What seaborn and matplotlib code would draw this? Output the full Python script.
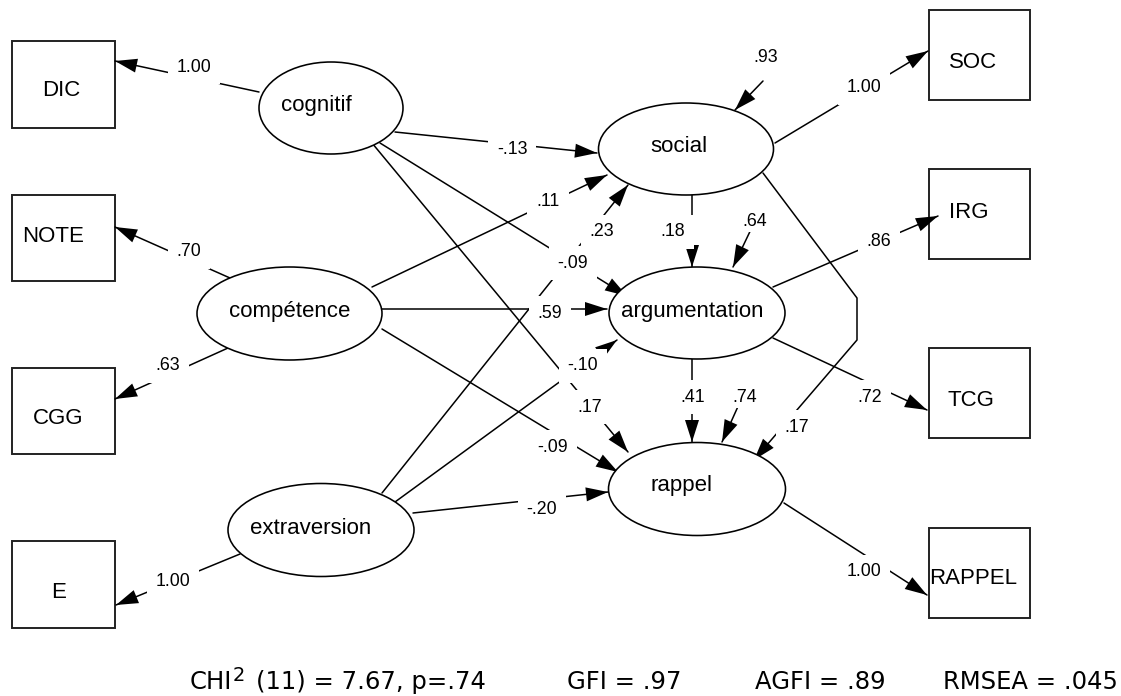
import numpy as np
import pandas as pd
import matplotlib
matplotlib.use("Agg")
import matplotlib.pyplot as plt
from matplotlib.patches import Ellipse, Rectangle
import seaborn as sns

## Model: latent variables, indicators and standardized estimates
latent = ["cognitif", "compétence", "extraversion", "social", "argumentation", "rappel"]
observed = ["DIC", "NOTE", "CGG", "E", "SOC", "IRG", "TCG", "RAPPEL"]

path_from = ["cognitif", "compétence", "compétence", "extraversion",
             "social", "argumentation", "argumentation", "rappel",
             "cognitif", "cognitif", "cognitif",
             "compétence", "compétence", "compétence",
             "extraversion", "extraversion", "extraversion",
             "social", "argumentation", "social"]
path_to = ["DIC", "NOTE", "CGG", "E",
           "SOC", "IRG", "TCG", "RAPPEL",
           "social", "argumentation", "rappel",
           "social", "argumentation", "rappel",
           "social", "argumentation", "rappel",
           "argumentation", "rappel", "rappel"]
path_coef = [1.00, 0.70, 0.63, 1.00,
             1.00, 0.86, 0.72, 1.00,
             -0.13, -0.09, 0.17,
             0.11, 0.59, -0.09,
             0.23, -0.10, -0.20,
             0.18, 0.41, 0.17]

resid_of = ["social", "argumentation", "rappel"]
resid_coef = [0.93, 0.64, 0.74]

fit_names = ["GFI", "AGFI", "RMSEA"]
fit_values = [".97", ".89", ".045"]
chi2, chi2_df, chi2_p = 7.67, 11, ".74"

## Layout (pixels, y down)
ell_layout = {  # center x, center y, width, height, text x, text y
    "cognitif": (331, 108, 144, 92, 316, 106),
    "compétence": (289.5, 313.5, 185, 93, 290, 311),
    "extraversion": (321, 530, 186, 93, 311, 528),
    "social": (686, 149, 175, 92, 679, 146),
    "argumentation": (697, 313, 176, 92, 692, 311),
    "rappel": (697, 489, 177, 93, 682, 486),
}
box_layout = {  # x0, y0, x1, y1, text x, text y
    "DIC": (12, 41, 115, 128, 61, 91),
    "NOTE": (12, 195, 115, 281, 53, 236),
    "CGG": (12, 368, 115, 454, 58, 418),
    "E": (12, 541, 115, 628, 59, 592),
    "SOC": (929, 10, 1030, 100, 973, 62),
    "IRG": (929, 169, 1030, 259, 969, 212),
    "TCG": (929, 348, 1030, 438, 971, 401),
    "RAPPEL": (929, 528, 1030, 618, 973, 578),
}
path_layout = [  # polyline points (last = arrow tip), label position
    ([(259, 92), (115, 61)], (194, 67)),
    ([(230, 278), (115, 227)], (189, 252)),
    ([(228, 348), (115, 399)], (168, 366)),
    ([(240, 554), (116, 605)], (173, 582)),
    ([(775, 143), (928, 51)], (864, 88)),
    ([(773, 287), (938, 216)], (879, 242)),
    ([(773, 338), (927, 410)], (870, 397)),
    ([(784, 503), (927, 595)], (864, 572)),
    ([(395, 132), (597, 153)], (512, 149)),
    ([(380, 143), (627, 296)], (573, 263)),
    ([(372, 143), (628, 452)], (590, 407)),
    ([(372, 287), (607, 175)], (548, 202)),
    ([(382, 309), (607, 309)], (550, 313)),
    ([(382, 329), (618, 472)], (553, 447)),
    ([(382, 493), (628, 185)], (602, 232)),
    ([(395, 502), (617, 340)], (583, 366)),
    ([(413, 513), (608, 492)], (542, 510)),
    ([(692, 195), (692, 267)], (673, 232)),
    ([(692, 358), (692, 442)], (693, 397)),
    ([(763, 173), (857, 298), (857, 340), (754, 460)], (797, 427)),
]
resid_layout = [  # tail, tip, label position
    ((763, 81), (735, 110), (766, 57)),
    ((755, 221), (733, 267), (755, 221)),
    ((740, 402), (722, 442), (745, 397)),
]


def fmt(v):
    s = f"{abs(v):.2f}"
    if s.startswith("0"):
        s = s[1:]
    return ("-" if v < 0 else "") + s


def arrow_head(ax, tail, tip, L=22, W=7):
    tail, tip = np.array(tail, float), np.array(tip, float)
    d = (tip - tail) / np.linalg.norm(tip - tail)
    n = np.array([-d[1], d[0]])
    base = tip - L * d
    pts = np.array([tip, base + W * n, base - W * n])
    ax.fill(pts[:, 0], pts[:, 1], color="black", lw=0, zorder=2)


sns.set_theme(style="white")
plt.rcParams["font.family"] = ["Liberation Sans", "DejaVu Sans"]
plt.rcParams["text.color"] = "black"

fig = plt.figure(figsize=(11.21, 6.96), dpi=100)
ax = fig.add_axes([0, 0, 1, 1])

# all path lines in one long table
rows = []
for i, (pts, _) in enumerate(path_layout):
    for x, y in pts:
        rows.append({"edge": f"p{i}", "x": x, "y": y})
for i, (tail, tip, _) in enumerate(resid_layout):
    rows.append({"edge": f"r{i}", "x": tail[0], "y": tail[1]})
    rows.append({"edge": f"r{i}", "x": tip[0], "y": tip[1]})
lines = pd.DataFrame(rows)
sns.lineplot(data=lines, x="x", y="y", units="edge", estimator=None, sort=False,
             color="black", linewidth=1.1, legend=False, ax=ax)

for pts, _ in path_layout:
    arrow_head(ax, pts[-2], pts[-1])
for tail, tip, _ in resid_layout:
    arrow_head(ax, tail, tip)

# coefficient labels, white background breaks the lines like AMOS
lab_box = dict(boxstyle="square,pad=0.5", fc="white", ec="none")
for (pts, (lx, ly)), v in zip(path_layout, path_coef):
    ax.text(lx, ly, fmt(v), fontsize=12.8, ha="center", va="center",
            bbox=lab_box, zorder=3)
for (tail, tip, (lx, ly)), v in zip(resid_layout, resid_coef):
    ax.text(lx, ly, fmt(v), fontsize=12.8, ha="center", va="center",
            bbox=dict(boxstyle="square,pad=0.15", fc="white", ec="none"), zorder=3)

# latent variables
for name in latent:
    cx, cy, w, h, tx, ty = ell_layout[name]
    ax.add_patch(Ellipse((cx, cy), w, h, fc="white", ec="black", lw=1.15, zorder=4))
    ax.text(tx, ty, name, fontsize=16, ha="center", va="center", zorder=5)

# observed variables
for name in observed:
    x0, y0, x1, y1, tx, ty = box_layout[name]
    ax.add_patch(Rectangle((x0, y0), x1 - x0, y1 - y0, fc="white", ec="#222222",
                           lw=1.4, zorder=1))
    ax.text(tx, ty, name, fontsize=16, ha="center", va="center", zorder=5)

# fit statistics
fit_font = dict(fontsize=17.5, family="DejaVu Sans", ha="left", va="baseline")
ax.text(190, 689, "CHI", **fit_font)
ax.text(233, 681, "2", fontsize=14, family="DejaVu Sans", ha="left", va="baseline")
ax.text(256, 689, f"({chi2_df}) = {chi2:.2f}, p={chi2_p}", **fit_font)
for name, val, x in zip(fit_names, fit_values, [567, 755, 943]):
    ax.text(x, 689, f"{name} = {val}", **fit_font)

ax.set_xlim(0, 1121)
ax.set_ylim(696, 0)
ax.axis("off")
fig.savefig("out.png", dpi=100, facecolor="white")
